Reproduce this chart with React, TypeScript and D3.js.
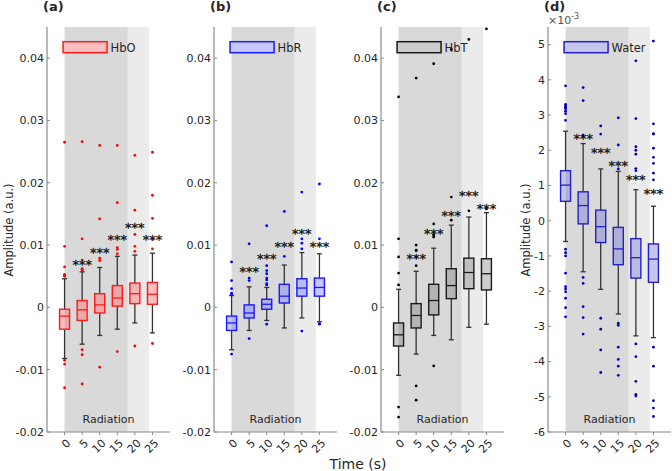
import React from 'react';
import * as d3 from 'd3';

// time points (s) for each box group
const TIMES = [0, 5, 10, 15, 20, 25];
const RADIATION_BAND = [0, 18];
const RECOVERY_BAND = [18, 24];

// HbO
const HBO_LOW = [-0.0082, -0.0059, -0.0045, -0.0035, -0.0025, -0.0041];
const HBO_Q1 = [-0.0035, -0.0021, -0.0009, 0.0002, 0.0006, 0.0005];
const HBO_MED = [-0.0014, -0.0004, 0.0004, 0.0015, 0.0022, 0.0021];
const HBO_Q3 = [-0.0003, 0.0011, 0.0022, 0.0035, 0.0039, 0.004];
const HBO_HIGH = [0.0046, 0.0057, 0.0064, 0.0082, 0.0084, 0.0087];
const HBO_STARS = [null, 0.0073, 0.0093, 0.0113, 0.0133, 0.0113];
const HBO_OUT = [
  [0.0265, 0.0098, 0.0065, 0.0053, 0.0051, 0.005, -0.0085, -0.0091, -0.0129],
  [0.0266, 0.011, 0.0076, 0.0062, 0.0061, 0.006, -0.0068, -0.0076, -0.0123],
  [0.026, 0.0142, 0.0079, 0.0075, -0.0096],
  [0.026, 0.0168, 0.0096, 0.0093, 0.0086, -0.0071],
  [0.0244, 0.0156, 0.0117, 0.0098, 0.009, -0.0062],
  [0.0249, 0.018, 0.0143, 0.0109, 0.0094, -0.0058],
];

// HbR
const HBR_LOW = [-0.0068, -0.0037, -0.0021, -0.0033, -0.0017, -0.0023];
const HBR_Q1 = [-0.0037, -0.0017, -0.0003, 0.0007, 0.0018, 0.0018];
const HBR_MED = [-0.0025, -0.0009, 0.0005, 0.0018, 0.0031, 0.0032];
const HBR_Q3 = [-0.0014, 0.0004, 0.0013, 0.0037, 0.0046, 0.0047];
const HBR_HIGH = [0.0019, 0.0033, 0.0032, 0.0068, 0.0088, 0.0086];
const HBR_STARS = [null, 0.0062, 0.0083, 0.0102, 0.0124, 0.0102];
const HBR_OUT = [
  [0.0073, 0.0043, 0.003, 0.0023, 0.0021, -0.0075],
  [0.0102, 0.0047, 0.0043, -0.005],
  [0.0131, 0.0067, 0.0059, 0.0054, 0.0047, 0.0044, 0.0038, 0.0036, -0.0027],
  [0.0154, 0.0082],
  [0.0185, 0.011, 0.0103, 0.0094, -0.0038],
  [0.0198, 0.011, -0.0026, -0.0027],
];

// HbT
const HBT_LOW = [-0.0109, -0.0075, -0.0045, -0.0052, -0.0032, -0.0027];
const HBT_Q1 = [-0.0062, -0.0033, -0.0012, 0.0014, 0.003, 0.0028];
const HBT_MED = [-0.0044, -0.0013, 0.0011, 0.0035, 0.0056, 0.0054];
const HBT_Q3 = [-0.0025, 0.0006, 0.0037, 0.0062, 0.0079, 0.0078];
const HBT_HIGH = [0.0029, 0.0058, 0.0095, 0.0132, 0.0145, 0.0152];
const HBT_STARS = [null, 0.0084, 0.0124, 0.0153, 0.0184, 0.0163];
const HBT_OUT = [
  [0.0338, 0.011, 0.0081, 0.0055, 0.0036, -0.016, -0.0176],
  [0.0368, 0.01, 0.0092, 0.0091, 0.0081, 0.0067, -0.0126, -0.0149],
  [0.0391, 0.0134, 0.0117, 0.0116, 0.0113, -0.0094],
  [0.0414, 0.0177, 0.014],
  [0.043, 0.0155],
  [0.0447, 0.0158],
];

// Water (x 10^-3)
const WATER_LOW = [-0.59, -1.45, -1.95, -2.65, -3.27, -3.32];
const WATER_Q1 = [0.55, -0.09, -0.62, -1.25, -1.63, -1.75];
const WATER_MED = [1.01, 0.43, -0.17, -0.8, -1.05, -1.09];
const WATER_Q3 = [1.42, 0.82, 0.3, -0.19, -0.51, -0.66];
const WATER_HIGH = [2.54, 2.19, 1.47, 1.4, 0.88, 0.41];
const WATER_STARS = [null, 2.43, 2.03, 1.64, 1.25, 0.85];
const WATER_OUT = [
  [3.83, 3.3, 3.25, 3.21, 3.18, 3.11, 3.04, 2.85, -0.81, -0.91, -1.0, -1.49, -1.87, -1.94, -2.02, -2.2, -2.47, -2.73],
  [3.78, 3.41, 2.43, 2.38, -1.61, -1.78, -2.44, -2.75, -3.22],
  [2.69, 2.46, -2.77, -3.08, -3.67, -4.31],
  [2.92, 2.15, 1.47, -2.91, -2.97, -3.59, -3.94, -4.13, -4.39],
  [4.54, 2.9, 2.1, 2.0, 1.89, 1.48, 1.42, -3.5, -3.86, -4.56, -4.93, -4.98],
  [5.1, 2.75, 2.47, 2.46, 2.06, 1.8, 1.63, 1.35, 1.16, -3.59, -4.13, -5.11, -5.32, -5.56],
];

const HB_TICKS = [-0.02, -0.01, 0, 0.01, 0.02, 0.03, 0.04];
const WATER_TICKS = [-6, -5, -4, -3, -2, -1, 0, 1, 2, 3, 4, 5];

const FONT = '"DejaVu Sans", sans-serif';
const TEXT = '#262626';
const TOP = 27;
const BOTTOM = 432;
const PLOT_W = 123;

const panels = [
  { tag: '(a)', name: 'HbO', left: 47, low: HBO_LOW, q1: HBO_Q1, med: HBO_MED, q3: HBO_Q3, high: HBO_HIGH, stars: HBO_STARS, out: HBO_OUT,
    edge: '#ff1a1a', fill: '#ff0000', fillOpacity: 0.25, dot: '#ff0000', ydom: [-0.02, 0.045], ticks: HB_TICKS },
  { tag: '(b)', name: 'HbR', left: 214, low: HBR_LOW, q1: HBR_Q1, med: HBR_MED, q3: HBR_Q3, high: HBR_HIGH, stars: HBR_STARS, out: HBR_OUT,
    edge: '#1a1aff', fill: '#0000ff', fillOpacity: 0.22, dot: '#0000ff', ydom: [-0.02, 0.045], ticks: HB_TICKS },
  { tag: '(c)', name: 'HbT', left: 381, low: HBT_LOW, q1: HBT_Q1, med: HBT_MED, q3: HBT_Q3, high: HBT_HIGH, stars: HBT_STARS, out: HBT_OUT,
    edge: '#1a1a1a', fill: '#000000', fillOpacity: 0.2, dot: '#000000', ydom: [-0.02, 0.045], ticks: HB_TICKS },
  { tag: '(d)', name: 'Water', left: 548, low: WATER_LOW, q1: WATER_Q1, med: WATER_MED, q3: WATER_Q3, high: WATER_HIGH, stars: WATER_STARS, out: WATER_OUT,
    edge: '#2222c8', fill: '#1a1ab4', fillOpacity: 0.25, dot: '#0000b4', ydom: [-6, 5.5], ticks: WATER_TICKS },
];

const fmtTick = (v: number) => (v === 0 ? '0' : String(+v.toFixed(2)));

function Panel({ p }: { p: any }) {
  const x = d3.scaleLinear().domain([-5, 30]).range([p.left, p.left + PLOT_W]);
  const y = d3.scaleLinear().domain(p.ydom).range([BOTTOM, TOP]);
  const boxW = 10;
  const capW = 5;
  return (
    <g>
      {/* shaded periods */}
      <rect x={x(RADIATION_BAND[0])} y={TOP} width={x(RADIATION_BAND[1]) - x(RADIATION_BAND[0])} height={BOTTOM - TOP} fill="#d9d9d9" />
      <rect x={x(RECOVERY_BAND[0])} y={TOP} width={x(RECOVERY_BAND[1]) - x(RECOVERY_BAND[0])} height={BOTTOM - TOP} fill="#ebebeb" />
      <text x={x(12.5)} y={423} fontSize={11} fontFamily={FONT} fill={TEXT} textAnchor="middle">Radiation</text>

      {/* legend */}
      <rect x={x(0) - 1.5} y={41.7} width={44} height={11} fill="#fff" />
      <rect x={x(0) - 1.5} y={41.7} width={44} height={11} fill={p.fill} fillOpacity={p.fillOpacity} stroke={p.edge} strokeWidth={1.5} />
      <text x={x(0) + 46} y={51.5} fontSize={11.5} fontFamily={FONT} fill={TEXT}>{p.name}</text>

      {/* boxes */}
      {TIMES.map((t, i) => {
        const cx = x(t);
        return (
          <g key={t}>
            <line x1={cx} x2={cx} y1={y(p.high[i])} y2={y(p.q3[i])} stroke="#333" strokeWidth={1.3} />
            <line x1={cx} x2={cx} y1={y(p.q1[i])} y2={y(p.low[i])} stroke="#333" strokeWidth={1.3} />
            <line x1={cx - capW / 2} x2={cx + capW / 2} y1={y(p.high[i])} y2={y(p.high[i])} stroke="#333" strokeWidth={1.3} />
            <line x1={cx - capW / 2} x2={cx + capW / 2} y1={y(p.low[i])} y2={y(p.low[i])} stroke="#333" strokeWidth={1.3} />
            <rect x={cx - boxW / 2} y={y(p.q3[i])} width={boxW} height={y(p.q1[i]) - y(p.q3[i])}
              fill="#fff" fillOpacity={0.25} />
            <rect x={cx - boxW / 2} y={y(p.q3[i])} width={boxW} height={y(p.q1[i]) - y(p.q3[i])}
              fill={p.fill} fillOpacity={p.fillOpacity} stroke={p.edge} strokeWidth={1.4} />
            <line x1={cx - boxW / 2} x2={cx + boxW / 2} y1={y(p.med[i])} y2={y(p.med[i])} stroke={p.edge} strokeWidth={1.3} />
            {p.out[i].map((v: number, j: number) => (
              <circle key={j} cx={cx} cy={y(v)} r={1.4} fill={p.dot} />
            ))}
            {p.stars[i] !== null && (
              <text x={cx} y={y(p.stars[i]) + 7.5} fontSize={13} fontFamily={FONT} fill="#111" textAnchor="middle"
                stroke="#111" strokeWidth={0.3}>***</text>
            )}
          </g>
        );
      })}

      {/* axes */}
      <line x1={p.left} x2={p.left} y1={TOP} y2={BOTTOM} stroke="#8a8a8a" strokeWidth={1.2} />
      <line x1={p.left} x2={p.left + PLOT_W} y1={BOTTOM} y2={BOTTOM} stroke="#8a8a8a" strokeWidth={1.2} />
      {p.ticks.map((v: number) => (
        <g key={v}>
          <line x1={p.left} x2={p.left + 3} y1={y(v)} y2={y(v)} stroke="#8a8a8a" />
          <text x={p.left - 3} y={y(v)} dy="0.35em" fontSize={11} fontFamily={FONT} fill={TEXT} textAnchor="end">
            {fmtTick(v)}
          </text>
        </g>
      ))}
      {TIMES.map((t) => (
        <g key={t}>
          <line x1={x(t)} x2={x(t)} y1={BOTTOM} y2={BOTTOM + 3} stroke="#8a8a8a" />
          <text transform={`translate(${x(t) + 4},${BOTTOM + 9}) rotate(-45)`} dy="0.35em" fontSize={11} fontFamily={FONT}
            fill={TEXT} textAnchor="end">{t}</text>
        </g>
      ))}
      <text x={p.left - 4} y={11} fontSize={13} fontWeight="bold" fontFamily={FONT} fill={TEXT}>{p.tag}</text>
    </g>
  );
}

export default function App() {
  return (
    <svg width={672} height={471} style={{ position: 'absolute', left: 0, top: 0, background: '#fff' }}>
      {panels.map((p) => <Panel key={p.tag} p={p} />)}
      <text transform="translate(9,230) rotate(-90)" fontSize={11.5} fontFamily={FONT} fill={TEXT} textAnchor="middle" dy="0.35em">
        Amplitude (a.u.)
      </text>
      <text transform="translate(526,230) rotate(-90)" fontSize={11.5} fontFamily={FONT} fill={TEXT} textAnchor="middle" dy="0.35em">
        Amplitude (a.u.)
      </text>
      <text x={548} y={24} fontSize={11} fontFamily={FONT} fill="#555">
        ×10<tspan fontSize={8} dy={-5}>-3</tspan>
      </text>
      <text x={358} y={469} fontSize={14} fontFamily={FONT} fill={TEXT} textAnchor="middle">Time (s)</text>
    </svg>
  );
}
